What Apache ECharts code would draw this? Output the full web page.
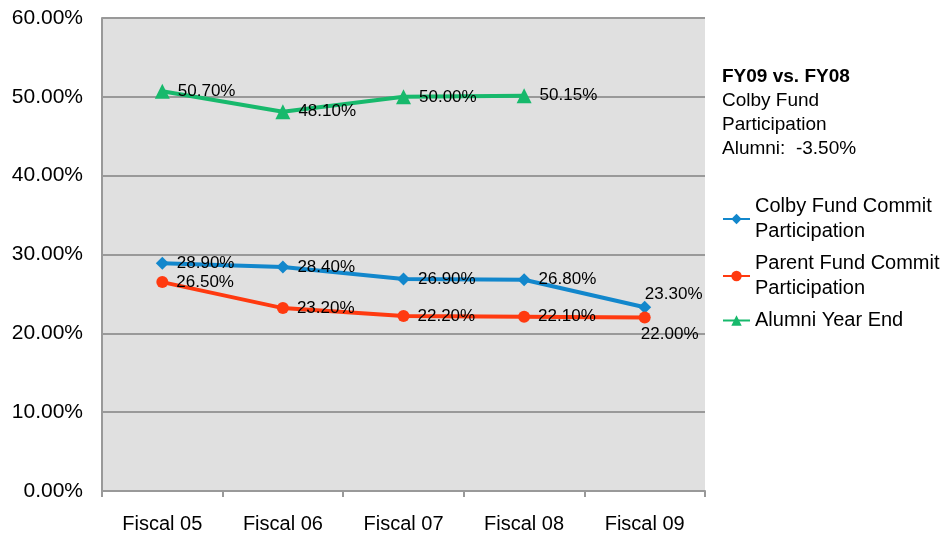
<!DOCTYPE html>
<html>
<head>
<meta charset="UTF-8">
<script src="https://cdn.jsdelivr.net/npm/echarts@6/dist/echarts.min.js"></script>
<style>
html, body { margin: 0; padding: 0; background: #fff; }
#main { width: 946px; height: 535px; }
</style>
</head>
<body>
<div id="main"></div>
<script type="text/javascript">
var categories = ['Fiscal 05', 'Fiscal 06', 'Fiscal 07', 'Fiscal 08', 'Fiscal 09'];
var colbyFund = [28.90, 28.40, 26.90, 26.80, 23.30];
var parentFund = [26.50, 23.20, 22.20, 22.10, 22.00];
var alumniYearEnd = [50.70, 48.10, 50.00, 50.15, null];
var yTicks = [0, 10, 20, 30, 40, 50, 60];

var font = 'Liberation Sans';

function pct(v) { return v.toFixed(2) + '%'; }

// a few labels sit somewhere other than to the right
function withLabels(values, special) {
    return values.map(function (v, i) {
        if (special[i]) return { value: v, label: special[i] };
        return v;
    });
}

var myChart = echarts.init(document.getElementById('main'));

var baseLabel = {
    show: true,
    position: 'right',
    distance: 8,
    color: '#000',
    fontFamily: font,
    fontSize: 17,
    formatter: function (p) { return pct(p.value); }
};

var option = {
    animation: false,
    title: {
        text: 'FY09 vs. FY08',
        subtext: 'Colby Fund\nParticipation\nAlumni:  -3.50%',
        left: 722,
        top: 67,
        padding: 0,
        itemGap: 3,
        textStyle: { fontFamily: font, fontSize: 19, fontWeight: 'bold', color: '#000' },
        subtextStyle: { fontFamily: font, fontSize: 19, color: '#000', lineHeight: 24 }
    },
    legend: {
        orient: 'vertical',
        left: 722,
        top: 194,
        padding: 0,
        itemWidth: 27,
        itemHeight: 13,
        itemGap: 7,
        textStyle: { fontFamily: font, fontSize: 20, color: '#000', lineHeight: 25 },
        data: ['Colby Fund Commit\nParticipation', 'Parent Fund Commit\nParticipation', 'Alumni Year End']
    },
    grid: {
        left: 102,
        right: 241,
        top: 18,
        bottom: 44,
        show: true,
        backgroundColor: '#e0e0e0',
        borderWidth: 0
    },
    xAxis: {
        type: 'category',
        data: categories,
        boundaryGap: true,
        axisLine: { lineStyle: { color: '#999', width: 2 } },
        axisTick: { show: true, length: 6, lineStyle: { color: '#999', width: 2 } },
        axisLabel: { fontFamily: font, fontSize: 20, color: '#000', margin: 23 }
    },
    yAxis: {
        type: 'value',
        min: yTicks[0],
        max: yTicks[yTicks.length - 1],
        interval: 10,
        axisLine: { show: true, lineStyle: { color: '#999', width: 2 } },
        axisTick: { show: false },
        splitLine: { lineStyle: { color: '#999', width: 2 } },
        axisLabel: { fontFamily: font, fontSize: 21, color: '#000', margin: 19, formatter: pct }
    },
    series: [
        {
            name: 'Colby Fund Commit\nParticipation',
            type: 'line',
            data: withLabels(colbyFund, { 4: { position: 'top', offset: [29, 10] } }),
            color: '#1287cc',
            lineStyle: { width: 4 },
            symbol: 'diamond',
            symbolSize: 13,
            label: baseLabel
        },
        {
            name: 'Parent Fund Commit\nParticipation',
            type: 'line',
            data: withLabels(parentFund, { 4: { position: 'bottom', offset: [25, -6] } }),
            color: '#ff3a10',
            lineStyle: { width: 4 },
            symbol: 'circle',
            symbolSize: 12,
            label: baseLabel
        },
        {
            name: 'Alumni Year End',
            type: 'line',
            data: alumniYearEnd,
            color: '#17b96c',
            lineStyle: { width: 4 },
            symbol: 'triangle',
            symbolSize: 15,
            label: baseLabel
        }
    ]
};

myChart.setOption(option);
</script>
</body>
</html>
